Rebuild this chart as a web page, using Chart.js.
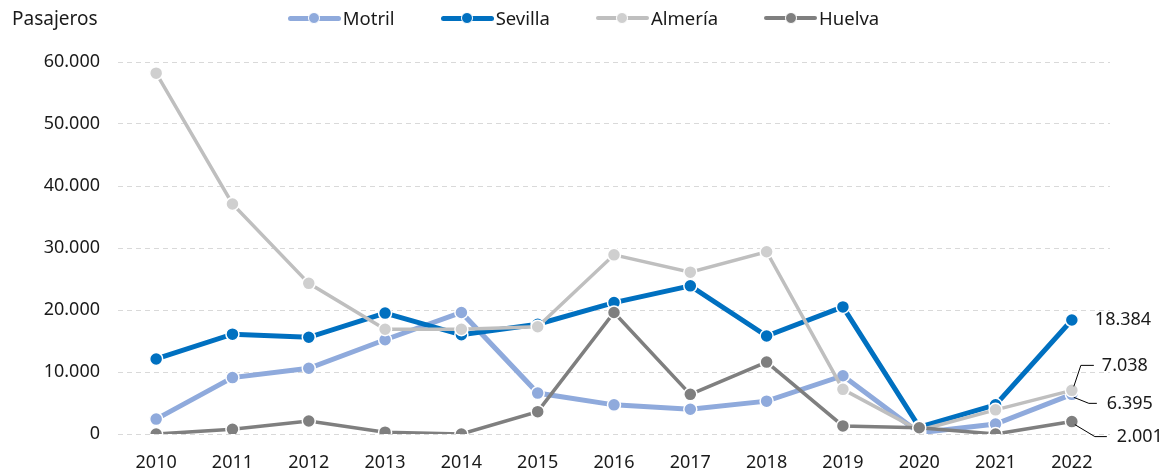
<!DOCTYPE html>
<html lang="es">
<head>
<meta charset="utf-8">
<title>Pasajeros</title>
<script src="https://cdn.jsdelivr.net/npm/chart.js@4.4.1/dist/chart.umd.min.js"></script>
<style>
  html,body{margin:0;padding:0;background:#fff}
  #wrap{width:1163px;height:474px;position:relative;font-family:"Noto Sans",sans-serif;color:#1A1A1A}
  #pax-title{position:absolute;left:12px;top:6px;font-size:19px;line-height:24px}
  #pax-legend{position:absolute;left:4px;right:0;top:7px;display:flex;justify-content:center;gap:46px;font-size:18.5px;line-height:22px}
  .lg-item{display:flex;align-items:center;gap:2px}
  .lg-icon{position:relative;width:53px;height:14px}
  .lg-line{position:absolute;left:0;right:0;top:50%;border-radius:3px}
  .lg-dot{position:absolute;left:50%;top:50%;width:10px;height:10px;margin:-6px 0 0 -6px;border:1px solid #fff;border-radius:50%}
</style>
</head>
<body>
<div id="wrap">
  <canvas id="pax-chart"></canvas>
  <div id="pax-title">Pasajeros</div>
  <div id="pax-legend"></div>
</div>
<script>
// pasajeros por año y puerto
const YEARS   = ['2010','2011','2012','2013','2014','2015','2016','2017','2018','2019','2020','2021','2022'];
const MOTRIL  = [2400, 9100, 10600, 15200, 19600, 6600, 4700, 4000, 5300, 9400, 200, 1600, 6395];
const SEVILLA = [12100, 16100, 15600, 19500, 16000, 17700, 21200, 23900, 15800, 20500, 1100, 4700, 18384];
const ALMERIA = [58200, 37100, 24300, 16900, 16900, 17300, 28900, 26100, 29400, 7200, 600, 3900, 7038];
const HUELVA  = [0, 750, 2100, 300, 0, 3600, 19600, 6400, 11600, 1300, 1000, 0, 2001];
const Y_TICKS = [0, 10000, 20000, 30000, 40000, 50000, 60000];

const TEXT = '#1A1A1A';
const FONT = '"Noto Sans", sans-serif';

// color, grosor y posición de la etiqueta final de cada serie
const SERIES = [
  { name:'Motril',  data:MOTRIL,  color:'#8FAADC', point:'#8FAADC', width:5,   order:3,
    tag:{ text:[35,10], leader:[[2,3],[17,9],[25,9]] } },
  { name:'Sevilla', data:SEVILLA, color:'#0070C0', point:'#0070C0', width:5,   order:2,
    tag:{ text:[23,0], leader:null } },
  { name:'Almería', data:ALMERIA, color:'#BFBFBF', point:'#CFCFCF', width:3.5, order:1,
    tag:{ text:[30,-24], leader:[[2,-4],[9,-25],[22,-25]] } },
  { name:'Huelva',  data:HUELVA,  color:'#7F7F7F', point:'#7F7F7F', width:3.5, order:0,
    tag:{ text:[45,15], leader:[[3,3],[23,15],[35,15]] } }
];

function fmt(v){ return String(Math.round(v)).replace(/\B(?=(\d{3})+(?!\d))/g, '.'); }

// leyenda en HTML
document.getElementById('pax-legend').innerHTML = SERIES.map(s => `
  <div class="lg-item">
    <div class="lg-icon">
      <div class="lg-line" style="height:${s.width}px;margin-top:${-s.width/2}px;background:${s.color}"></div>
      <div class="lg-dot" style="background:${s.point}"></div>
    </div>
    <span>${s.name}</span>
  </div>`).join('');

// etiquetas del último año con línea guía
const lastTags = {
  id:'last-tags',
  afterDatasetsDraw(chart){
    const {ctx} = chart;
    ctx.save();
    ctx.font = `18px ${FONT}`;
    ctx.fillStyle = TEXT;
    ctx.textBaseline = 'middle';
    ctx.textAlign = 'left';
    SERIES.forEach((s, i) => {
      const meta = chart.getDatasetMeta(i);
      const last = meta.data.length - 1;
      const pt = meta.data[last];
      const val = chart.data.datasets[i].data[last];
      if(s.tag.leader){
        ctx.beginPath();
        ctx.strokeStyle = '#000';
        ctx.lineWidth = 1;
        s.tag.leader.forEach(([dx,dy], k) => {
          if(k===0) ctx.moveTo(pt.x+dx, pt.y+dy); else ctx.lineTo(pt.x+dx, pt.y+dy);
        });
        ctx.stroke();
      }
      ctx.fillText(fmt(val), pt.x + s.tag.text[0], pt.y + s.tag.text[1]);
    });
    ctx.restore();
  }
};

new Chart(document.getElementById('pax-chart'), {
  type:'line',
  data:{
    labels:YEARS,
    datasets:SERIES.map(s => ({
      label:s.name, data:s.data, order:s.order,
      borderColor:s.color, borderWidth:s.width,
      pointBackgroundColor:s.point, pointBorderColor:'#fff', pointBorderWidth:1.5,
      pointRadius:6.5, pointHoverRadius:6.5, tension:0, fill:false
    }))
  },
  options:{
    responsive:true, maintainAspectRatio:false, animation:false,
    layout:{ padding:{ top:62, right:53, left:0, bottom:0 } },
    plugins:{ legend:{display:false}, tooltip:{enabled:false} },
    scales:{
      x:{
        offset:true,
        grid:{display:false},
        border:{display:false},
        ticks:{ font:{size:18, family:FONT}, color:TEXT, padding:10, maxRotation:0 },
        afterFit(scale){ scale.height = 40; }
      },
      y:{
        min:0, max:60000,
        afterBuildTicks(scale){ scale.ticks = Y_TICKS.map(v => ({value:v})); },
        grid:{ color:'#D9D9D9', lineWidth:1, drawTicks:false },
        border:{ display:false, dash:[5,4] },
        ticks:{ font:{size:18, family:FONT}, color:TEXT, padding:18, callback:v => fmt(v) },
        afterFit(scale){ scale.width = 118; }
      }
    }
  },
  plugins:[lastTags]
});
</script>
</body>
</html>
